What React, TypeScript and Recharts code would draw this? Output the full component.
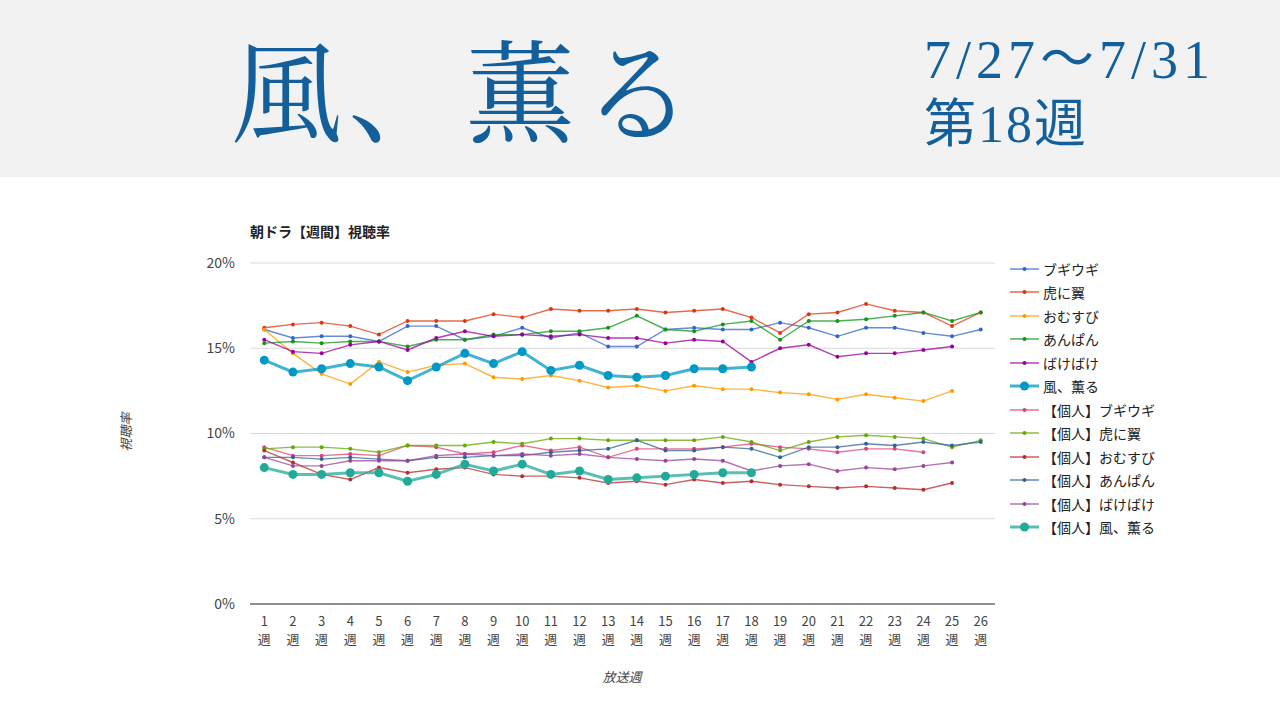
import { LineChart, Line, XAxis, YAxis, CartesianGrid } from "recharts";

const weeks = ["1", "2", "3", "4", "5", "6", "7", "8", "9", "10", "11", "12", "13", "14", "15", "16", "17", "18", "19", "20", "21", "22", "23", "24", "25", "26"];

const yTicks = [0, 5, 10, 15, 20];

const seriesNames = [
  "ブギウギ",
  "虎に翼",
  "おむすび",
  "あんぱん",
  "ばけばけ",
  "風、薫る",
  "【個人】ブギウギ",
  "【個人】虎に翼",
  "【個人】おむすび",
  "【個人】あんぱん",
  "【個人】ばけばけ",
  "【個人】風、薫る",
];

const seriesColors = ["#3366CC", "#DC3912", "#FF9900", "#109618", "#990099", "#0099C6", "#DD4477", "#66AA00", "#B82E2E", "#316395", "#994499", "#22AA99"];

// 世帯
const boogie = [16.1, 15.6, 15.7, 15.7, 15.4, 16.3, 16.3, 15.5, 15.7, 16.2, 15.6, 15.9, 15.1, 15.1, 16.1, 16.2, 16.1, 16.1, 16.5, 16.2, 15.7, 16.2, 16.2, 15.9, 15.7, 16.1];
const toraNiTsubasa = [16.2, 16.4, 16.5, 16.3, 15.8, 16.6, 16.6, 16.6, 17.0, 16.8, 17.3, 17.2, 17.2, 17.3, 17.1, 17.2, 17.3, 16.8, 15.9, 17.0, 17.1, 17.6, 17.2, 17.1, 16.3, 17.1];
const omusubi = [16.1, 14.7, 13.5, 12.9, 14.2, 13.6, 14.0, 14.1, 13.3, 13.2, 13.4, 13.1, 12.7, 12.8, 12.5, 12.8, 12.6, 12.6, 12.4, 12.3, 12.0, 12.3, 12.1, 11.9, 12.5, null];
const anpan = [15.3, 15.4, 15.3, 15.4, 15.4, 15.1, 15.5, 15.5, 15.8, 15.8, 16.0, 16.0, 16.2, 16.9, 16.1, 16.0, 16.4, 16.6, 15.5, 16.6, 16.6, 16.7, 16.9, 17.1, 16.6, 17.1];
const bakebake = [15.5, 14.8, 14.7, 15.2, 15.4, 14.9, 15.6, 16.0, 15.7, 15.8, 15.7, 15.8, 15.6, 15.6, 15.3, 15.5, 15.4, 14.2, 15.0, 15.2, 14.5, 14.7, 14.7, 14.9, 15.1, null];
const kazeKaoru = [14.3, 13.6, 13.8, 14.1, 13.9, 13.1, 13.9, 14.7, 14.1, 14.8, 13.7, 14.0, 13.4, 13.3, 13.4, 13.8, 13.8, 13.9];

// 個人
const boogieP = [9.2, 8.7, 8.7, 8.8, 8.7, 9.3, 9.2, 8.8, 8.9, 9.3, 9.0, 9.2, 8.6, 9.1, 9.1, 9.1, 9.2, 9.4, 9.2, 9.1, 8.9, 9.1, 9.1, 8.9];
const toraP = [9.1, 9.2, 9.2, 9.1, 8.9, 9.3, 9.3, 9.3, 9.5, 9.4, 9.7, 9.7, 9.6, 9.6, 9.6, 9.6, 9.8, 9.5, 9.0, 9.5, 9.8, 9.9, 9.8, 9.7, 9.2, 9.6];
const omusubiP = [9.0, 8.3, 7.6, 7.3, 8.0, 7.7, 7.9, 8.0, 7.6, 7.5, 7.5, 7.4, 7.1, 7.2, 7.0, 7.3, 7.1, 7.2, 7.0, 6.9, 6.8, 6.9, 6.8, 6.7, 7.1];
const anpanP = [8.6, 8.6, 8.5, 8.6, 8.5, 8.4, 8.6, 8.6, 8.7, 8.7, 8.9, 9.0, 9.1, 9.6, 9.0, 9.0, 9.2, 9.1, 8.6, 9.2, 9.2, 9.4, 9.3, 9.5, 9.3, 9.5];
const bakebakeP = [8.6, 8.1, 8.1, 8.4, 8.4, 8.4, 8.7, 8.8, 8.7, 8.8, 8.7, 8.8, 8.6, 8.5, 8.4, 8.5, 8.4, 7.8, 8.1, 8.2, 7.8, 8.0, 7.9, 8.1, 8.3];
const kazeKaoruP = [8.0, 7.6, 7.6, 7.7, 7.7, 7.2, 7.6, 8.2, 7.8, 8.2, 7.6, 7.8, 7.3, 7.4, 7.5, 7.6, 7.7, 7.7];

const allSeries = [boogie, toraNiTsubasa, omusubi, anpan, bakebake, kazeKaoru, boogieP, toraP, omusubiP, anpanP, bakebakeP, kazeKaoruP];

const data = weeks.map((w, i) => {
  const row: Record<string, string | number | null> = { week: w };
  allSeries.forEach((s, k) => {
    row["s" + k] = s[i] ?? null;
  });
  return row;
});

const FONT = '"Noto Sans CJK JP", "Noto Sans", sans-serif';
const HIGHLIGHT = 5;
const HIGHLIGHT_P = 11;

function WeekTick(props: any) {
  const { x, y, payload } = props;
  return (
    <g transform={`translate(${x},${y})`}>
      <text textAnchor="middle" fill="#444" fontSize={13} fontFamily={FONT}>
        <tspan x={0} dy={14}>{payload.value}</tspan>
        <tspan x={0} dy={18}>週</tspan>
      </text>
    </g>
  );
}

function LegendList() {
  return (
    <div style={{ position: "absolute", left: 1008, top: 257 }}>
      {seriesNames.map((name, i) => {
        const big = i === HIGHLIGHT || i === HIGHLIGHT_P;
        return (
          <div key={name} style={{ display: "flex", alignItems: "center", height: 23.5 }}>
            <svg width={34} height={14} style={{ flex: "none" }}>
              <line x1={2} x2={31} y1={7} y2={7} stroke={seriesColors[i]} strokeWidth={big ? 3 : 1.5} strokeOpacity={0.75} />
              <circle cx={16.5} cy={7} r={big ? 4.5 : 2} fill={seriesColors[i]} />
            </svg>
            <span style={{ fontSize: 14, color: "#222", marginLeft: 1, whiteSpace: "nowrap" }}>{name}</span>
          </div>
        );
      })}
    </div>
  );
}

export default function App() {
  return (
    <div style={{ position: "absolute", left: 0, top: 0, width: 1280, height: 720, background: "#fff", fontFamily: FONT, overflow: "hidden" }}>
      <div style={{ position: "absolute", left: 0, top: 0, width: 1280, height: 177, background: "#F2F2F2" }}>
        <div style={{ position: "absolute", left: 231, top: 30, fontSize: 111, lineHeight: "112px", letterSpacing: 6, color: "#135F9B", fontFamily: '"Noto Serif CJK JP", "Noto Sans CJK JP", serif', whiteSpace: "nowrap" }}>
          風、薫る
        </div>
        <div style={{ position: "absolute", left: 924, top: 30, fontSize: 54, lineHeight: "60px", color: "#135F9B", fontFamily: '"Liberation Serif", "Noto Sans CJK JP", serif', whiteSpace: "nowrap", letterSpacing: 5 }}>
          7/27～7/31
        </div>
        <div style={{ position: "absolute", left: 924, top: 95, fontSize: 52, lineHeight: "60px", color: "#135F9B", fontFamily: '"Liberation Serif", "Noto Sans CJK JP", serif', whiteSpace: "nowrap", letterSpacing: 2 }}>
          第18週
        </div>
      </div>

      <div style={{ position: "absolute", left: 250, top: 223, fontSize: 14, lineHeight: "16px", fontWeight: 700, color: "#222" }}>
        朝ドラ【週間】視聴率
      </div>

      <div style={{ position: "absolute", left: 0, top: 177 }}>
        <LineChart width={1280} height={543} data={data} margin={{ top: 86, right: 285, bottom: 56, left: 190 }}>
          <CartesianGrid vertical={false} stroke="#d9d9d9" />
          <XAxis
            dataKey="week"
            height={60}
            padding={{ left: 14.3, right: 14.3 }}
            axisLine={{ stroke: "#333" }}
            tickLine={false}
            interval={0}
            tick={<WeekTick />}
          />
          <YAxis
            width={60}
            domain={[0, 20]}
            ticks={yTicks}
            axisLine={false}
            tickLine={false}
            tickMargin={9}
            tickFormatter={(v: number) => `${v}%`}
            tick={{ fontSize: 14, fill: "#444", fontFamily: FONT }}
          />
          {seriesNames.map((name, i) => {
            const big = i === HIGHLIGHT || i === HIGHLIGHT_P;
            return (
              <Line
                key={name}
                type="linear"
                dataKey={"s" + i}
                name={name}
                stroke={seriesColors[i]}
                strokeOpacity={0.75}
                strokeWidth={big ? 3 : 1.4}
                dot={{ r: big ? 4.5 : 2, fill: seriesColors[i], stroke: "none", fillOpacity: 1 }}
                activeDot={false}
                isAnimationActive={false}
              />
            );
          })}
        </LineChart>
      </div>

      <LegendList />

      <div style={{ position: "absolute", left: 572, top: 668, width: 100, textAlign: "center", fontSize: 13, lineHeight: "18px", fontStyle: "italic", color: "#444" }}>
        放送週
      </div>
      <div style={{ position: "absolute", left: 76, top: 423, width: 100, textAlign: "center", fontSize: 13, lineHeight: "18px", fontStyle: "italic", color: "#444", transform: "rotate(-90deg)" }}>
        視聴率
      </div>
    </div>
  );
}
